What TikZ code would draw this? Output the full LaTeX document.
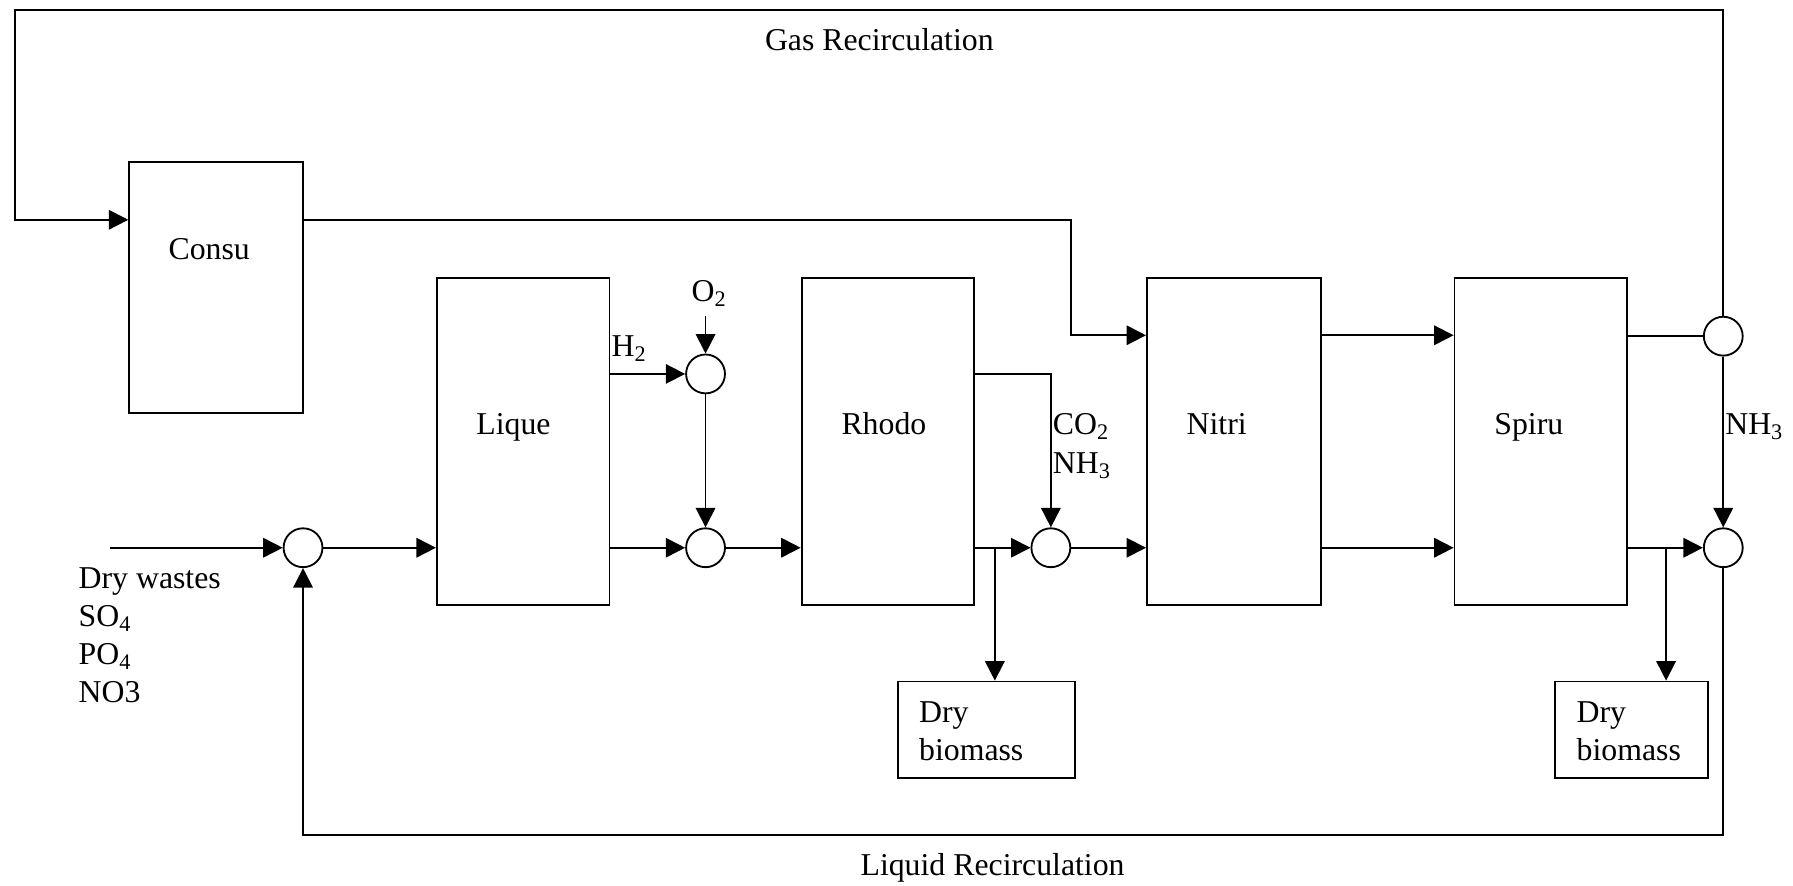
\documentclass[tikz,border=0pt]{standalone}
\usepackage{fontspec}
\setmainfont{Liberation Serif}
\usetikzlibrary{arrows.meta}
\begin{document}
\begin{tikzpicture}[x=1pt,y=-1pt,line width=1.6pt]
\tikzset{
  every node/.style={font=\fontsize{27.8}{33}\selectfont, inner sep=0pt},
  blk/.style={draw, rectangle, line width=1.6pt},
  mix/.style={draw, circle, minimum size=34pt, line width=1.6pt},
  arr/.style={-{Triangle[length=17pt,width=17pt]}},
  lbl/.style={anchor=base},
  lbll/.style={anchor=base west},
  multi/.style={anchor=north west, align=left},
}
\useasboundingbox (0,0) rectangle (1568,774);

% boxes
\node[blk, minimum width=152pt, minimum height=219pt] (consu) at (189,251.5) {};
\node[blk, minimum width=151pt, minimum height=286pt] (lique) at (457.5,386) {};
\node[blk, minimum width=151pt, minimum height=286pt] (rhodo) at (776.5,386) {};
\node[blk, minimum width=152pt, minimum height=286pt] (nitri) at (1079,386) {};
\node[blk, minimum width=151pt, minimum height=286pt] (spiru) at (1347.5,386) {};
\node[blk, minimum width=155pt, minimum height=84pt] (bio1) at (862.5,638) {};
\node[blk, minimum width=134pt, minimum height=84pt] (bio2) at (1427,638) {};

% mixers
\node[mix] (m1) at (265,479) {};
\node[mix] (o2c) at (617,327) {};
\node[mix] (m2) at (617,479) {};
\node[mix] (m3) at (919,479) {};
\node[mix] (tr) at (1507,294) {};
\node[mix] (br) at (1507,479) {};

% texts
\node[lbl] (consuT) at (183,227) {Consu};
\node[lbl] (liqueT) at (449,380) {Lique};
\node[lbl] (rhodoT) at (773,380) {Rhodo};
\node[lbl] (nitriT) at (1064,380) {Nitri};
\node[lbl] (spiruT) at (1337,380) {Spiru};
\node[lbl] (gasT) at (769,44) {Gas Recirculation};
\node[lbl] (liqT) at (868,766) {Liquid Recirculation};
\node[lbll] (h2T) at (534,312) {H\textsubscript{2}};
\node[lbl] (o2T) at (620,264) {O\textsubscript{2}};
\node[lbll] (co2T) at (920,380) {CO\textsubscript{2}};
\node[lbll] (nh3T) at (920,414) {NH\textsubscript{3}};
\node[lbll] (nh3R) at (1508,380) {NH\textsubscript{3}};
\node[multi] (dwT) at (68,496) {Dry wastes\\SO\textsubscript{4}\\PO\textsubscript{4}\\NO3};
\node[multi] (bio1T) at (803,613) {Dry\\biomass};
\node[multi] (bio2T) at (1378,613) {Dry\\biomass};

% named free ends
\coordinate (gl) at (13,9);
\coordinate (gasin) at ([yshift=-51pt]consu.north west);
\coordinate (inp) at (96,479);
\coordinate (o2in) at (617,276);
\coordinate (b1) at (870,479);
\coordinate (b2) at (1457,479);
\coordinate (lq) at (265,730);

% gas recirculation
\draw[arr] (tr.north) -- (tr.north |- gl) -- (gl) -- (gl |- gasin) -- (gasin);
\draw[arr] (gasin -| consu.east) -- ++(671,0) |- ([yshift=-51pt]nitri.north west);

% main line
\draw[arr] (inp) -- (m1.west);
\draw[arr] (m1.east) -- (lique.west |- m1);
\draw[arr] (lique.east |- m2) -- (m2.west);
\draw[arr] (lique.east |- o2c) -- (o2c.west);
\draw[arr] (o2in) -- (o2c.north);
\draw[arr] (o2c.south) -- (m2.north);
\draw[arr] (m2.east) -- (rhodo.west |- m2);
\draw[arr] (rhodo.east |- o2c) -| (m3.north);
\draw[arr] (rhodo.east |- m3) -- (m3.west);
\draw[arr] (b1) -- (b1 |- bio1.north);
\draw[arr] (m3.east) -- (nitri.west |- m3);
\draw[arr] ([yshift=-51pt]nitri.north east) -- ([yshift=-51pt]spiru.north west);
\draw[arr] (nitri.east |- m3) -- (spiru.west |- m3);
\draw (spiru.east |- tr) -- (tr.west);
\draw[arr] (tr.south) -- (br.north);
\draw[arr] (spiru.east |- br) -- (br.west);
\draw[arr] (b2) -- (b2 |- bio2.north);

% liquid recirculation
\draw[arr] (br.south) |- (lq) -- (m1.south);
\end{tikzpicture}
\end{document}
